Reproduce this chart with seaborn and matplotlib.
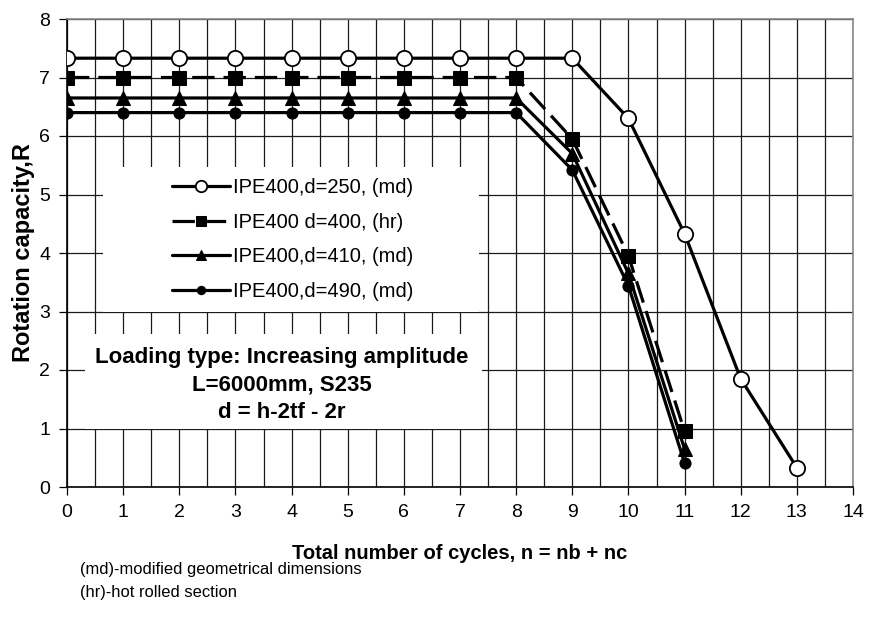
import matplotlib
matplotlib.use("Agg")
import matplotlib.pyplot as plt
import seaborn as sns
import pandas as pd
from matplotlib.patches import Rectangle
from matplotlib.ticker import MultipleLocator

sns.set_theme(style="white")
plt.rcParams['font.family'] = ['Liberation Sans', 'DejaVu Sans']
plt.rcParams['text.color'] = 'black'
plt.rcParams['axes.labelcolor'] = 'black'
plt.rcParams['xtick.color'] = 'black'
plt.rcParams['ytick.color'] = 'black'

# ---- data ----
cycles_250 = [0, 1, 2, 3, 4, 5, 6, 7, 8, 9, 10, 11, 12, 13]
r_250 = [7.33, 7.33, 7.33, 7.33, 7.33, 7.33, 7.33, 7.33, 7.33, 7.33, 6.3, 4.33, 1.85, 0.33]
cycles_short = [0, 1, 2, 3, 4, 5, 6, 7, 8, 9, 10, 11]
r_400 = [7.0, 7.0, 7.0, 7.0, 7.0, 7.0, 7.0, 7.0, 7.0, 5.95, 3.95, 0.95]
r_410 = [6.65, 6.65, 6.65, 6.65, 6.65, 6.65, 6.65, 6.65, 6.65, 5.7, 3.65, 0.65]
r_490 = [6.4, 6.4, 6.4, 6.4, 6.4, 6.4, 6.4, 6.4, 6.4, 5.42, 3.44, 0.41]
labels = ["IPE400,d=250, (md)", "IPE400 d=400, (hr)", "IPE400,d=410, (md)", "IPE400,d=490, (md)"]
x_ticks = list(range(0, 15))
y_ticks = list(range(0, 9))
x_label = "Total number of cycles, n = nb + nc"
y_label = "Rotation capacity,R"
note_text = "Loading type: Increasing amplitude\nL=6000mm, S235\nd = h-2tf - 2r"
footnote = "(md)-modified geometrical dimensions\n(hr)-hot rolled section"

fig = plt.figure(figsize=(8.72, 6.33), dpi=100)
ax = fig.add_axes([67/872, 1-487/633, (853-67)/872, (487-19)/633])

lw = 2.3
styles = [
    dict(marker='o', markersize=11, markerfacecolor='white', markeredgecolor='black', markeredgewidth=1.3),
    dict(marker='s', markersize=10, markerfacecolor='black', markeredgecolor='black', dashes=(7, 2.8)),
    dict(marker='^', markersize=9.5, markerfacecolor='black', markeredgecolor='black'),
    dict(marker='o', markersize=8, markerfacecolor='black', markeredgecolor='black'),
]
series = [(cycles_250, r_250), (cycles_short, r_400), (cycles_short, r_410), (cycles_short, r_490)]
for (xs, ys), lab, st in zip(series, labels, styles):
    df = pd.DataFrame({"n": xs, "R": ys})
    st = dict(st)
    dashes = st.pop('dashes', None)
    sns.lineplot(data=df, x="n", y="R", ax=ax, color='black', linewidth=lw,
                 label=lab, zorder=3, **st)
    if dashes is not None:
        ax.lines[-1].set_dashes(dashes)

ax.set_xlim(0, 14)
ax.set_ylim(0, 8)
ax.set_xticks(x_ticks)
ax.set_yticks(y_ticks)
ax.xaxis.set_minor_locator(MultipleLocator(0.5))
ax.grid(True, which='major', color='#1a1a1a', linewidth=0.9)
ax.grid(True, which='minor', axis='x', color='#1a1a1a', linewidth=0.9)
ax.set_axisbelow(True)
ax.tick_params(axis='both', which='major', direction='out', length=6, width=0.9,
               color='black', labelsize=14, pad=6, bottom=True, left=True)
ax.tick_params(axis='x', which='minor', length=0)
for side in ['top', 'right']:
    ax.spines[side].set_color('#888888')
    ax.spines[side].set_linewidth(1.2)
for side in ['left', 'bottom']:
    ax.spines[side].set_color('black')
    ax.spines[side].set_linewidth(1.2)

ax.set_xlabel(x_label, fontsize=14.5, fontweight='bold', labelpad=17)
ax.set_ylabel(y_label, fontsize=17, fontweight='bold', labelpad=3)

# white boxes masking grid behind legend and note
ax.add_patch(Rectangle((0.64, 2.99), 6.7, 2.48, facecolor='white', edgecolor='none', zorder=1))
ax.add_patch(Rectangle((0.32, 1.0), 7.08, 1.62, facecolor='white', edgecolor='none', zorder=1))

leg = ax.legend(loc='upper left', bbox_to_anchor=(1.72, 5.42), bbox_transform=ax.transData,
                frameon=False, fontsize=14.5, handlelength=2.9, handletextpad=0.15,
                labelspacing=0.78, markerscale=0.75, borderaxespad=0)
leg.set_zorder(5)

ax.text(3.83, 1.74, note_text, ha='center', va='center', fontsize=16,
        fontweight='bold', linespacing=1.42, zorder=5)

fig.text(80/872, 1-581/633, footnote, ha='left', va='center', fontsize=11.9,
         linespacing=1.62)

fig.savefig("out.png", dpi=100)
